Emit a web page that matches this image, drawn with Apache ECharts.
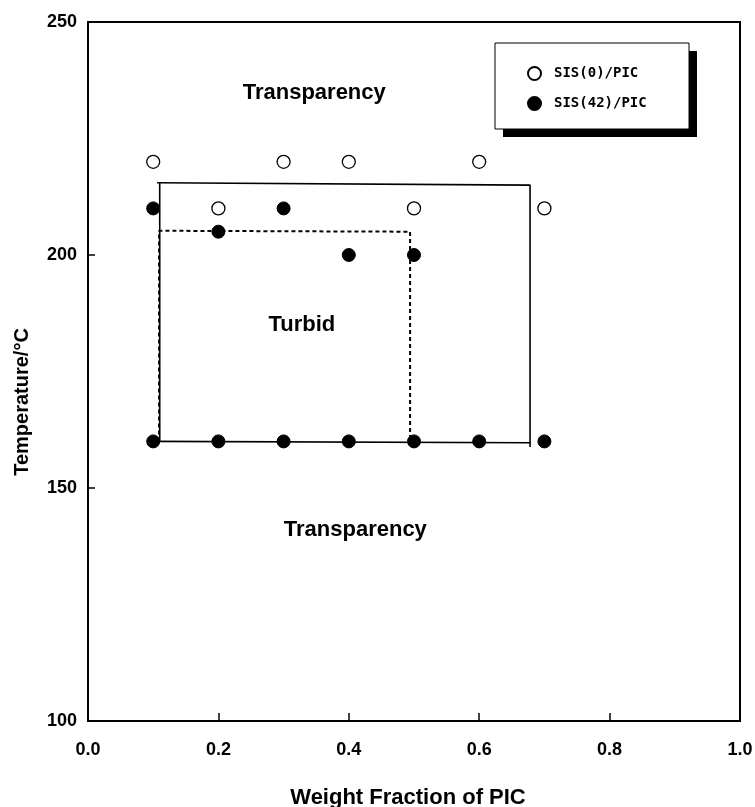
<!DOCTYPE html>
<html>
<head>
<meta charset="utf-8">
<script src="https://cdn.jsdelivr.net/npm/echarts@6/dist/echarts.min.js"></script>
<style>
  html, body { margin: 0; padding: 0; background: #fff; }
  #chart { width: 755px; height: 807px; }
</style>
</head>
<body>
<div id="chart"></div>
<script>
// SIS(0)/PIC — open circles
const sis0 = [[0.1, 220], [0.3, 220], [0.4, 220], [0.6, 220], [0.2, 210], [0.5, 210], [0.7, 210]]
// SIS(42)/PIC — filled circles
const sis42 = [
  [0.1, 210], [0.3, 210], [0.2, 205], [0.4, 200], [0.5, 200],
  [0.1, 160], [0.2, 160], [0.3, 160], [0.4, 160], [0.5, 160], [0.6, 160], [0.7, 160]
]
// phase boundaries
const solidTopRight = [[0.106, 215.5], [0.678, 215], [0.678, 158.8]]
const solidLeft = [[0.11, 215.5], [0.11, 160]]
const solidBottom = [[0.1, 160], [0.678, 159.7]]
const dashedPath = [[0.109, 160], [0.109, 205.2], [0.494, 205], [0.494, 161]]
// region labels
const regions = [
  { name: 'Transparency', value: [0.347, 234.8] },
  { name: 'Turbid', value: [0.328, 185] },
  { name: 'Transparency', value: [0.41, 141] }
]

const font = "'Liberation Sans', Arial, sans-serif"
const chart = echarts.init(document.getElementById('chart'))

const lineSeries = (data, type) => ({
  type: 'line',
  data: data,
  symbol: 'none',
  silent: true,
  lineStyle: { color: '#000', width: type === 'dashed' ? 2 : 1.6, type: type === 'dashed' ? [4, 3] : 'solid' },
  z: 2
})

chart.setOption({
  animation: false,
  grid: {
    left: 88, top: 22, width: 652, height: 699,
    outerBoundsMode: 'none', containLabel: false,
    show: true, borderColor: '#000', borderWidth: 2
  },
  xAxis: {
    type: 'value', min: 0, max: 1, interval: 0.2,
    axisLine: { lineStyle: { color: '#000', width: 2 } },
    axisTick: { inside: true, length: 8, lineStyle: { color: '#000', width: 1.5 } },
    splitLine: { show: false },
    axisLabel: {
      margin: 20, color: '#000', fontFamily: font, fontWeight: 'bold', fontSize: 18,
      formatter: v => v.toFixed(1)
    },
    name: 'Weight Fraction of PIC',
    nameLocation: 'middle',
    nameGap: 66,
    nameTextStyle: { color: '#000', fontFamily: font, fontWeight: 'bold', fontSize: 22, padding: [0, 0, 0, -12] }
  },
  yAxis: {
    type: 'value', min: 100, max: 250, interval: 50,
    axisLine: { lineStyle: { color: '#000', width: 2 } },
    axisTick: { inside: true, length: 7, lineStyle: { color: '#000', width: 1.5 } },
    splitLine: { show: false },
    axisLabel: { margin: 11, color: '#000', fontFamily: font, fontWeight: 'bold', fontSize: 18 }
  },
  legend: {
    orient: 'vertical',
    left: 527, top: 66,
    itemWidth: 13, itemHeight: 13, itemGap: 15,
    padding: 0,
    data: ['SIS(0)/PIC', 'SIS(42)/PIC'],
    textStyle: { color: '#000', fontFamily: "'DejaVu Sans Mono', monospace", fontWeight: 'bold', fontSize: 14, padding: [0, 0, 0, 8] }
  },
  graphic: [
    { type: 'rect', shape: { x: 503, y: 51, width: 194, height: 86 }, style: { fill: '#000' }, z: 0 },
    { type: 'rect', shape: { x: 495, y: 43, width: 194, height: 86 }, style: { fill: '#fff', stroke: '#000', lineWidth: 1 }, z: 1 },
    {
      type: 'text', x: 22, y: 402, rotation: Math.PI / 2,
      style: { text: 'Temperature/°C', fill: '#000', font: "bold 20px 'Liberation Sans', Arial, sans-serif", align: 'center', verticalAlign: 'middle' }
    }
  ],
  series: [
    lineSeries(solidTopRight, 'solid'),
    lineSeries(solidLeft, 'solid'),
    lineSeries(solidBottom, 'solid'),
    lineSeries(dashedPath, 'dashed'),
    {
      type: 'scatter',
      data: regions,
      symbolSize: 0,
      silent: true,
      itemStyle: { opacity: 1 },
      label: {
        show: true, position: 'inside', formatter: p => p.name,
        color: '#000', fontFamily: font, fontWeight: 'bold', fontSize: 22
      }
    },
    {
      name: 'SIS(0)/PIC', type: 'scatter', data: sis0, symbol: 'circle', symbolSize: 13,
      itemStyle: { color: '#fff', borderColor: '#000', borderWidth: 1.3, opacity: 1 }, z: 5
    },
    {
      name: 'SIS(42)/PIC', type: 'scatter', data: sis42, symbol: 'circle', symbolSize: 13,
      itemStyle: { color: '#000', borderColor: '#000', borderWidth: 1, opacity: 1 }, z: 5
    }
  ]
})
</script>
</body>
</html>
